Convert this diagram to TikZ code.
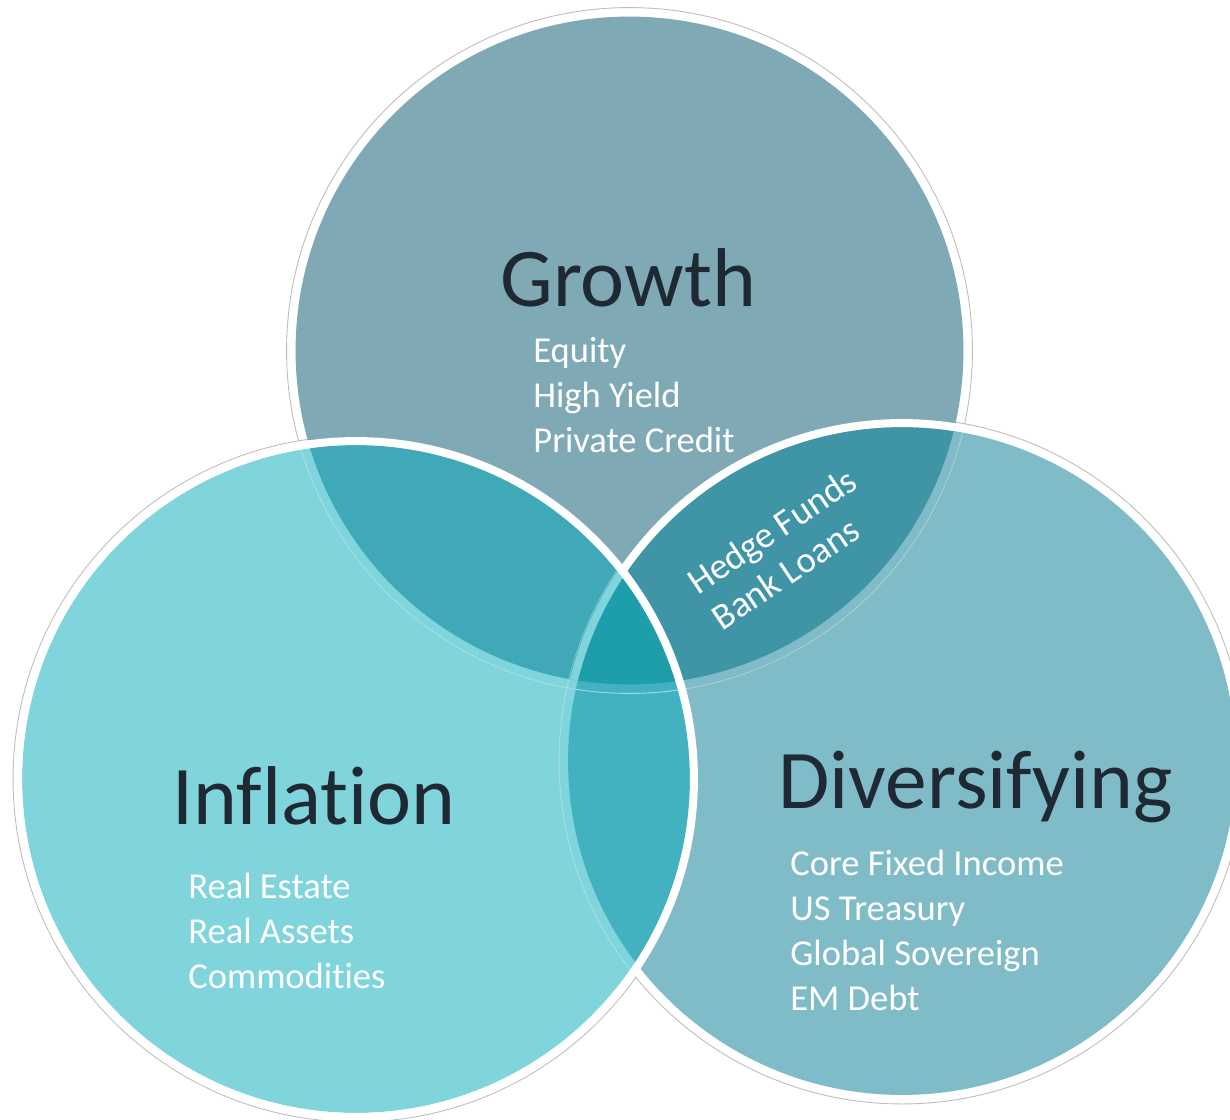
\documentclass[tikz,border=0pt]{standalone}
\usepackage{fontspec}
\setmainfont{Carlito}[Ligatures={NoCommon}]
\definecolor{cGrow}{HTML}{80A9B6}
\definecolor{cInfl}{HTML}{80D4DB}
\definecolor{cDiv}{HTML}{80BCC8}
\definecolor{cGI}{HTML}{3FA9B8}
\definecolor{cGD}{HTML}{3F94A6}
\definecolor{cID}{HTML}{42B2C0}
\definecolor{cGID}{HTML}{1E9DAB}
\definecolor{cTitle}{HTML}{1F2933}
\definecolor{cHalo}{HTML}{BDBDBD}
\tikzset{
  title/.style={anchor=base west, inner sep=0pt, text=cTitle, font=\fontsize{47.5}{56}\selectfont},
  item/.style={anchor=base west, inner sep=0pt, text=white, font=\fontsize{20.8}{25}\selectfont},
  lensitem/.style={anchor=west, inner sep=0pt, text=white, rotate=34, align=left, font=\fontsize{21}{24.5}\selectfont},
  halo/.style={fill=white, draw=cHalo, line width=0.5pt},
  ring/.style={draw=white, line width=0.16cm},
  faint/.style={draw=white, draw opacity=0.3, line width=0.5pt}
}
\begin{document}
\begin{tikzpicture}[x=0.02cm, y=-0.02cm]
\useasboundingbox (0,0) rectangle (1230,1119);
\coordinate (G) at (629.5,350.5);
\coordinate (I) at (356,779);
\coordinate (D) at (902,761);
\def\cG{(G) circle[radius=6.68cm]}
\def\cI{(I) circle[radius=6.68cm]}
\def\cD{(D) circle[radius=6.68cm]}
% halos
\path[halo] (G) circle[radius=6.86cm];
\path[halo] (I) circle[radius=6.86cm];
\path[halo] (D) circle[radius=6.86cm];
% base fills
\fill[cGrow] \cG;
\fill[cDiv] \cD;
\begin{scope}\clip \cG; \fill[cGD] \cD; \end{scope}
% white ring of Diversifying over Growth
\begin{scope}\clip \cG; \draw[ring] (D) circle[radius=6.76cm]; \end{scope}
% Inflation on top
\fill[cInfl] \cI;
\begin{scope}\clip \cI; \fill[cGI] \cG; \end{scope}
\begin{scope}\clip \cI; \fill[cID] \cD; \end{scope}
\begin{scope}\clip \cI; \clip \cG; \fill[cGID] \cD; \end{scope}
% Diversifying ring seen through Inflation inside Growth
\begin{scope}\clip \cI; \clip \cG; \draw[draw=cInfl, line width=0.16cm] (D) circle[radius=6.76cm]; \end{scope}
% faint halo lines seen through
\begin{scope}\clip \cI; \draw[faint] (D) circle[radius=6.86cm]; \draw[faint] (G) circle[radius=6.86cm]; \end{scope}
\begin{scope}\clip \cD; \draw[faint] (G) circle[radius=6.86cm]; \end{scope}
% white ring of Inflation
\draw[ring] (I) circle[radius=6.76cm];
% texts
\node[title] (tG) at (500,306) {Growth};
\node[item] (g1) at (533,362) {Equity};
\node[item] (g2) at (533,407) {High Yield};
\node[item] (g3) at (533,452) {Private Credit};
\node[title] (tI) at (172,824) {Inflation};
\node[item] (i1) at (188,898) {Real Estate};
\node[item] (i2) at (188,943) {Real Assets};
\node[item] (i3) at (188,988) {Commodities};
\node[title] (tD) at (778,808) {Diversifying};
\node[item] (d1) at (790,875) {Core Fixed Income};
\node[item] (d2) at (790,920) {US Treasury};
\node[item] (d3) at (790,965) {Global Sovereign};
\node[item] (d4) at (790,1010) {EM Debt};
\node[lensitem] (hb) at (703,603) {Hedge Funds\\Bank Loans};
\end{tikzpicture}
\end{document}
